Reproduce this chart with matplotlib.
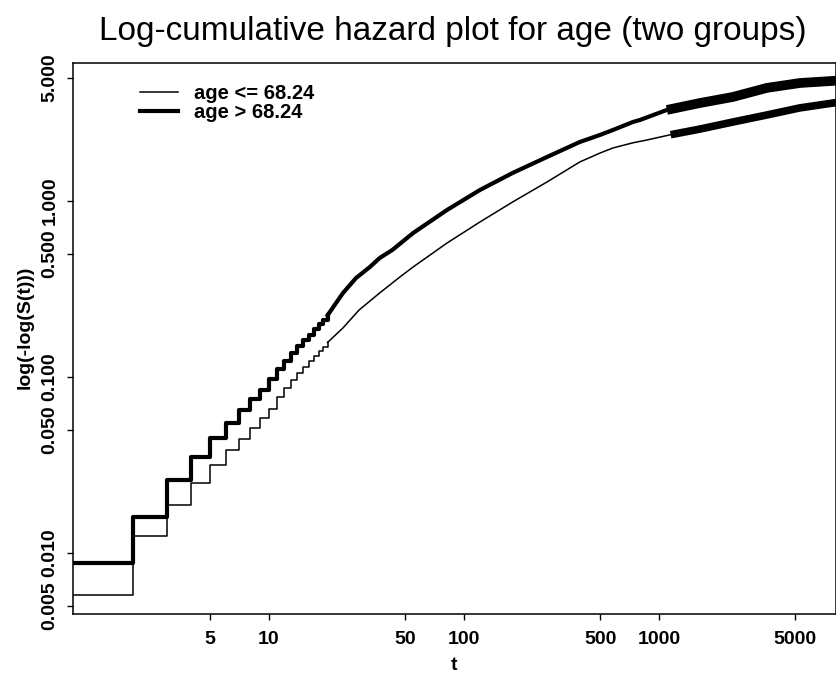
import numpy as np
import matplotlib.pyplot as plt

plt.rcParams['font.family'] = ['Liberation Sans', 'DejaVu Sans']

# early part: step function at whole days
step_t = [1, 2, 3, 4, 5, 6, 7, 8, 9, 10, 11, 12, 13, 14, 15, 16, 17, 18, 19, 20]
step_low = [0.00577, 0.0125, 0.01875, 0.0250, 0.0316, 0.0385, 0.0445, 0.0513, 0.0585, 0.066,
            0.077, 0.087, 0.096, 0.105, 0.114, 0.123, 0.131, 0.140, 0.148, 0.157]
step_high = [0.00877, 0.0160, 0.0260, 0.0351, 0.0450, 0.0548, 0.0649, 0.075, 0.0844, 0.097,
             0.111, 0.124, 0.136, 0.149, 0.162, 0.174, 0.187, 0.199, 0.211, 0.224]

# later part: steps too dense to see, read as a curve
t_low = [20, 24, 29, 37, 47, 55, 82, 121, 178, 267, 393, 498, 581, 736, 868, 1150,
         1620, 2400, 3580, 5290, 7800, 8100]
v_low = [0.157, 0.190, 0.240, 0.300, 0.370, 0.422, 0.577, 0.760, 0.987, 1.282, 1.665,
         1.87, 2.0, 2.14, 2.22, 2.38, 2.56, 2.81, 3.08, 3.38, 3.60, 3.62]
t_high = [20, 24, 28, 33, 37, 43, 55, 82, 121, 178, 267, 393, 498, 581, 736, 800, 1100,
          1620, 2400, 3580, 5290, 7800, 8100]
v_high = [0.224, 0.300, 0.365, 0.422, 0.474, 0.527, 0.658, 0.889, 1.155, 1.443, 1.778,
          2.163, 2.37, 2.53, 2.81, 2.885, 3.29, 3.60, 3.90, 4.39, 4.68, 4.81, 4.83]

# where censoring marks pile up and the line looks fat
dense_low = 1150
dense_high = 1100

yticks = [0.005, 0.01, 0.05, 0.1, 0.5, 1, 5]
xticks = [5, 10, 50, 100, 500, 1000, 5000]

fig = plt.figure(figsize=(8.37, 6.76), dpi=100)
ax = fig.add_axes([73 / 837, 1 - 614 / 676, 763 / 837, 551 / 676])

ax.step(step_t, step_low, where='post', color='black', lw=1.1, label='age <= 68.24')
ax.step(step_t, step_high, where='post', color='black', lw=3.0, label='age > 68.24')
ax.plot(t_low, v_low, color='black', lw=1.1)
ax.plot(t_high, v_high, color='black', lw=3.0)

t_low = np.array(t_low)
t_high = np.array(t_high)
ax.plot(t_low[t_low >= dense_low], np.array(v_low)[t_low >= dense_low],
        color='black', lw=5.5, solid_capstyle='butt')
ax.plot(t_high[t_high >= dense_high], np.array(v_high)[t_high >= dense_high],
        color='black', lw=7, solid_capstyle='butt')

ax.set_xscale('log')
ax.set_yscale('log')
ax.set_xlim(0.99, 8100)
ax.set_ylim(0.0045, 6.08)

ax.set_xticks(xticks)
ax.set_xticklabels([str(x) for x in xticks], fontsize=14, fontweight='bold')
ax.set_yticks(yticks)
ax.set_yticklabels(['%.3f' % y for y in yticks], fontsize=14, fontweight='bold',
                   rotation=90, va='center')
ax.minorticks_off()
ax.tick_params(axis='both', direction='out', length=4.5, width=1, color='black')
ax.tick_params(axis='x', pad=8)
ax.tick_params(axis='y', pad=6)
for s in ax.spines.values():
    s.set_linewidth(1.1)

ax.set_xlabel('t', fontsize=14, fontweight='bold', labelpad=6)
ax.set_ylabel('log(-log(S(t)))', fontsize=14, fontweight='bold')
ax.yaxis.set_label_coords(-0.052, 0.52)
fig.text(0.541, 0.953, 'Log-cumulative hazard plot for age (two groups)',
         fontsize=24, ha='center', va='center')

ax.legend(loc='upper left', bbox_to_anchor=(0.088, 0.962), frameon=False,
          prop={'weight': 'bold', 'size': 14.5}, borderpad=0,
          borderaxespad=0, handlelength=1.9, handletextpad=0.75, labelspacing=0)

fig.savefig('out.png', dpi=100)
